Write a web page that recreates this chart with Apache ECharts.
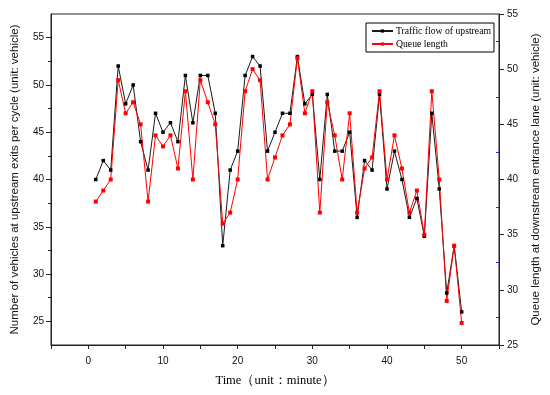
<!DOCTYPE html>
<html>
<head>
<meta charset="utf-8">
<script src="https://cdn.jsdelivr.net/npm/echarts@6/dist/echarts.min.js"></script>
<style>html,body{margin:0;padding:0;background:#fff;}#c{width:550px;height:395px;}</style>
</head>
<body>
<div id="c"></div>
<script>
const minutes = [1,2,3,4,5,6,7,8,9,10,11,12,13,14,15,16,17,18,19,20,21,22,23,24,25,26,27,28,29,30,31,32,33,34,35,36,37,38,39,40,41,42,43,44,45,46,47,48,49,50];
const upstreamFlow = [40,42,41,52,48,50,44,41,47,45,46,44,51,46,51,51,47,33,41,43,51,53,52,43,45,47,47,53,48,49,40,49,43,43,45,36,42,41,49,39,43,40,36,38,34,47,39,28,33,26];
const queueLength = [38,39,40,49,46,47,45,38,44,43,44,41,48,40,49,47,45,36,37,40,48,50,49,40,42,44,45,51,46,48,37,47,44,40,46,37,41,42,48,40,44,41,37,39,35,48,40,29,34,27];
const leftTicks = [25,30,35,40,45,50,55];
const leftMinorTicks = [27.5,32.5,37.5,42.5,47.5,52.5];
const rightMinorTicks = [27.5,32.5,37.5,42.5,47.5,52.5];
const seriesNames = ['Traffic flow of upstream','Queue length'];

const chart = echarts.init(document.getElementById('c'), null, {renderer:'canvas'});
const axisColor = '#222';
const labelFont = {color:'#111', fontSize:10, fontFamily:'Liberation Sans'};
const nameFont = {color:'#111', fontSize:11.5, fontFamily:'Liberation Sans'};

chart.setOption({
  animation:false,
  backgroundColor:'#fff',
  grid:{left:51, right:50, top:14, bottom:50, show:true, borderColor:axisColor, borderWidth:1, containLabel:false},
  legend:{
    data:seriesNames, orient:'vertical', left:366, top:23,
    padding:[3,3,3,5], itemGap:3, itemWidth:21, itemHeight:4,
    borderColor:'#000', borderWidth:1, backgroundColor:'#fff',
    textStyle:{fontFamily:'Liberation Serif', fontSize:9.7, color:'#000', padding:[0,0,0,-2]}
  },
  xAxis:{
    type:'value', min:-5, max:55, interval:5,
    name:'Time（unit：minute）', nameLocation:'middle', nameGap:29,
    nameTextStyle:{fontFamily:'Liberation Serif', fontSize:12.5, color:'#000'},
    axisLine:{onZero:false, lineStyle:{color:axisColor}},
    axisTick:{length:4, lineStyle:{color:axisColor}},
    axisLabel:Object.assign({margin:11, formatter:v => (v % 10 === 0 ? String(v) : '')}, labelFont),
    splitLine:{show:false}
  },
  yAxis:[
    {
      type:'value', position:'left', min:22.5, max:57.5,
      name:'Number of vehicles at upstream exits per cycle (unit: vehicle)',
      nameLocation:'middle', nameGap:30, nameTextStyle:nameFont,
      axisLine:{show:true, onZero:false, lineStyle:{color:axisColor}},
      axisTick:{show:true, length:5, customValues:leftTicks, lineStyle:{color:axisColor}},
      axisLabel:Object.assign({margin:7, customValues:leftTicks}, labelFont),
      splitLine:{show:false}
    },
    {
      type:'value', position:'right', min:25, max:55, interval:5,
      name:'Queue length at downstream entrance lane (unit: vehicle)',
      nameLocation:'middle', nameGap:31, nameTextStyle:nameFont,
      axisLine:{show:true, onZero:false, lineStyle:{color:axisColor}},
      axisTick:{show:true, length:5, lineStyle:{color:axisColor}},
      axisLabel:Object.assign({margin:8}, labelFont),
      splitLine:{show:false}
    },
    {
      type:'value', position:'left', min:22.5, max:57.5,
      axisLine:{show:false, onZero:false},
      axisTick:{show:true, length:3, customValues:leftMinorTicks, lineStyle:{color:axisColor}},
      axisLabel:{show:false}, splitLine:{show:false}
    },
    {
      type:'value', position:'right', min:25, max:55,
      axisLine:{show:false, onZero:false},
      axisTick:{show:true, inside:true, length:3, customValues:rightMinorTicks, lineStyle:{color:'#2030e0'}},
      axisLabel:{show:false}, splitLine:{show:false}
    }
  ],
  series:[
    {
      name:seriesNames[0], type:'line', yAxisIndex:0,
      data:minutes.map((m,i) => [m, upstreamFlow[i]]),
      symbol:'rect', symbolSize:3.5, showAllSymbol:true,
      lineStyle:{color:'#1a1a1a', width:1},
      itemStyle:{color:'#000'}
    },
    {
      name:seriesNames[1], type:'line', yAxisIndex:1,
      data:minutes.map((m,i) => [m, queueLength[i]]),
      symbol:'rect', symbolSize:4, showAllSymbol:true,
      lineStyle:{color:'#ff0000', width:1},
      itemStyle:{color:'#ff0000'}
    }
  ]
});
</script>
</body>
</html>
